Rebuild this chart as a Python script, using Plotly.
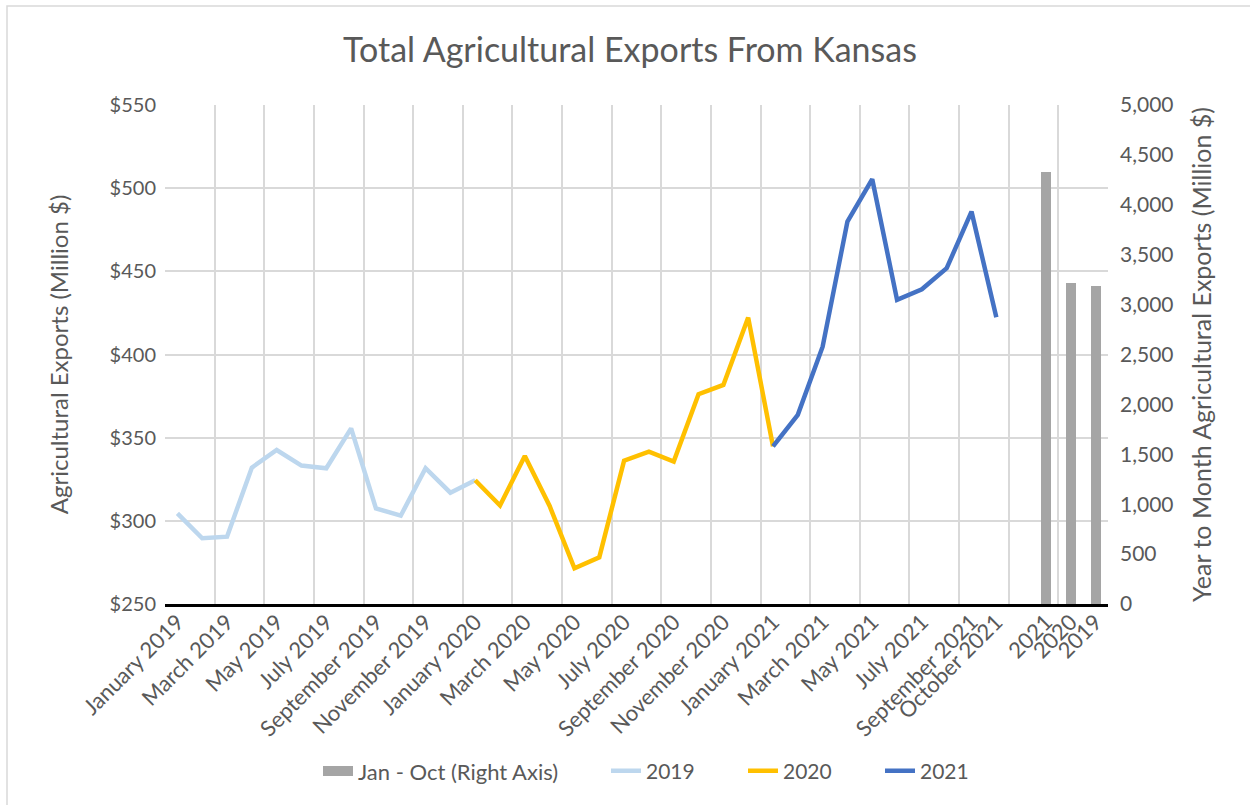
import plotly.graph_objects as go

# Monthly agricultural exports, million dollars
months_2019 = ["January 2019", "February 2019", "March 2019", "April 2019", "May 2019", "June 2019",
               "July 2019", "August 2019", "September 2019", "October 2019", "November 2019", "December 2019"]
months_2020 = ["January 2020", "February 2020", "March 2020", "April 2020", "May 2020", "June 2020",
               "July 2020", "August 2020", "September 2020", "October 2020", "November 2020", "December 2020"]
months_2021 = ["January 2021", "February 2021", "March 2021", "April 2021", "May 2021", "June 2021",
               "July 2021", "August 2021", "September 2021", "October 2021"]

exports_2019 = [304.5, 289.5, 290.5, 332.0, 342.6, 333.2, 331.6, 355.6, 307.5, 303.1, 331.6, 316.9]
exports_2020 = [324.4, 309.2, 339.0, 308.9, 271.5, 278.1, 336.2, 341.6, 335.6, 376.1, 381.7, 422.2]
exports_2021 = [344.8, 363.7, 404.7, 479.9, 505.4, 432.8, 439.2, 451.9, 485.9, 422.4]

# Year-to-month (January - October) totals, million dollars
ytd_years = ["2021", "2020", "2019"]
ytd_totals = [4331, 3218, 3190]

# Category axis labels (months shown every other month, plus the last month and the totals)
shown_labels = ["January 2019", "March 2019", "May 2019", "July 2019", "September 2019", "November 2019",
                "January 2020", "March 2020", "May 2020", "July 2020", "September 2020", "November 2020",
                "January 2021", "March 2021", "May 2021", "July 2021", "September 2021", "October 2021",
                "2021", "2020", "2019"]

categories = months_2019 + months_2020 + months_2021 + [""] + ytd_years
pos = {c: i for i, c in enumerate(categories) if c}

FONT = "Lato, 'Open Sans', sans-serif"
GREY_TXT = "#595959"
GRID = "#D9D9D9"
BAR_GREY = "#A5A5A5"

fig = go.Figure()

fig.add_trace(go.Bar(
    x=[pos[y] for y in ytd_years], y=ytd_totals, yaxis="y2",
    width=0.4, marker=dict(color=BAR_GREY, line=dict(width=0)),
    name="Jan - Oct (Right Axis)", legendgroup="ytd", showlegend=False,
))
# wide grey swatch for the totals' legend entry
fig.add_trace(go.Scatter(
    x=[None], y=[None], yaxis="y2", mode="lines", line=dict(color=BAR_GREY, width=12),
    name="Jan - Oct (Right Axis)", legendgroup="ytd", legend="legend", hoverinfo="skip",
))

# each year's line runs on to the next January so the series join up
fig.add_trace(go.Scatter(
    x=[pos[m] for m in months_2019 + months_2020[:1]], y=exports_2019 + exports_2020[:1],
    mode="lines", line=dict(color="#BDD7EE", width=4.5), name="2019", legend="legend2",
))
fig.add_trace(go.Scatter(
    x=[pos[m] for m in months_2020 + months_2021[:1]], y=exports_2020 + exports_2021[:1],
    mode="lines", line=dict(color="#FFC000", width=4.5), name="2020", legend="legend3",
))
fig.add_trace(go.Scatter(
    x=[pos[m] for m in months_2021], y=exports_2021,
    mode="lines", line=dict(color="#4472C4", width=4.5), name="2021", legend="legend4",
))

xrange = [-0.5, len(categories) - 0.5]


def legend_at(left_px, size=21):
    return dict(orientation="h", x=(left_px - 165) / 943, xanchor="left",
                y=-0.335, yanchor="middle", font=dict(size=size, color=GREY_TXT),
                bgcolor="rgba(0,0,0,0)")


fig.update_layout(
    width=1250, height=805,
    margin=dict(l=165, r=142, t=105, b=201),
    paper_bgcolor="white", plot_bgcolor="white",
    font=dict(family=FONT, color=GREY_TXT, size=20),
    title=dict(text="Total Agricultural Exports From Kansas", x=0.504, xanchor="center",
               y=1 - 50 / 805, yanchor="middle",
               font=dict(family=FONT, size=34, color=GREY_TXT, weight=400)),
    bargap=0,
    showlegend=True,
    legend=legend_at(318, 22),
    legend2=legend_at(606),
    legend3=legend_at(743),
    legend4=legend_at(880),
    # gridline axis: lines between every second category
    xaxis=dict(range=xrange, tickmode="linear", tick0=-0.5, dtick=2, showticklabels=False,
               showgrid=True, gridcolor=GRID, gridwidth=1.5, zeroline=False,
               showline=True, linecolor="black", linewidth=3, ticks=""),
    # label axis
    xaxis2=dict(range=xrange, overlaying="x", side="bottom", anchor="y",
                tickmode="array", tickvals=[pos[l] for l in shown_labels], ticktext=shown_labels,
                tickangle=-45, showgrid=False, zeroline=False, showline=False, ticks="",
                tickfont=dict(size=22, color=GREY_TXT)),
    yaxis=dict(range=[250, 550], dtick=50, tickprefix="$", tickformat=",.0f",
               showgrid=True, gridcolor=GRID, gridwidth=1.5, zeroline=False, showline=False,
               ticks="", ticklabelstandoff=8, tickfont=dict(size=20, color=GREY_TXT),
               title=dict(text="Agricultural Exports (Million $)", standoff=34,
                          font=dict(size=24, color=GREY_TXT))),
    yaxis2=dict(range=[0, 5000], dtick=500, tickformat=",", overlaying="y", side="right",
                showgrid=False, zeroline=False, showline=False, ticks="", ticklabelstandoff=11,
                tickfont=dict(size=21, color=GREY_TXT),
                title=dict(text="Year to Month Agricultural Exports (Million $)", standoff=20,
                           font=dict(size=25, color=GREY_TXT))),
    shapes=[dict(type="rect", xref="paper", yref="paper",
                 x0=(7 - 165) / 943, x1=(1262 - 165) / 943,
                 y0=(604 - 815) / 499, y1=(604 - 6) / 499,
                 line=dict(color=GRID, width=1.5), fillcolor="rgba(0,0,0,0)", layer="below")],
)

# invisible trace so the label axis is laid out
fig.add_trace(go.Scatter(x=[pos[l] for l in shown_labels], y=[None] * len(shown_labels),
                         xaxis="x2", mode="lines", showlegend=False, hoverinfo="skip"))

fig.write_html("out.html")
